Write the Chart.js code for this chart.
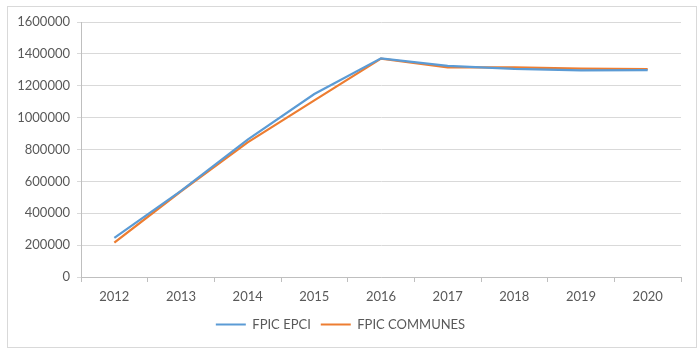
<!DOCTYPE html>
<html>
<head>
<meta charset="utf-8">
<script src="https://cdn.jsdelivr.net/npm/chart.js@4"></script>
<style>
  html, body { margin: 0; padding: 0; background: #fff; }
  #wrap { position: relative; width: 700px; height: 361px; }
  #frame { position: absolute; left: 7px; top: 6px; width: 688px; height: 340px;
           border: 1px solid #d9d9d9; pointer-events: none; }
</style>
</head>
<body>
<div id="wrap">
  <canvas id="chart" width="700" height="361"></canvas>
  <div id="frame"></div>
</div>
<script>
const years = ['2012', '2013', '2014', '2015', '2016', '2017', '2018', '2019', '2020'];
const fpicEpci = [245000, 540000, 862000, 1148000, 1372000, 1325000, 1306000, 1297000, 1298000];
const fpicCommunes = [215000, 538000, 845000, 1108000, 1370000, 1316000, 1316000, 1308000, 1305000];
const yTicks = [0, 200000, 400000, 600000, 800000, 1000000, 1200000, 1400000, 1600000];

const textColor = '#595959';
const gridColor = '#d9d9d9';
const font = { family: 'Lato, "Open Sans", sans-serif', size: 13 };

new Chart(document.getElementById('chart'), {
    type: 'line',
    data: {
        labels: years,
        datasets: [
            { label: 'FPIC EPCI', data: fpicEpci, borderColor: '#5b9bd5', backgroundColor: '#5b9bd5',
              borderWidth: 2.25, pointRadius: 0, tension: 0 },
            { label: 'FPIC COMMUNES', data: fpicCommunes, borderColor: '#ed7d31', backgroundColor: '#ed7d31',
              borderWidth: 2.25, pointRadius: 0, tension: 0 }
        ]
    },
    options: {
        responsive: false,
        animation: false,
        layout: { padding: { top: 22, right: 19, bottom: 20, left: 0 } },
        plugins: {
            tooltip: { enabled: false },
            legend: {
                position: 'bottom',
                labels: {
                    color: textColor,
                    font: font,
                    boxWidth: 30,
                    boxHeight: 2,
                    padding: 10,
                    generateLabels: (chart) => {
                        const items = Chart.defaults.plugins.legend.labels.generateLabels(chart);
                        items.forEach(it => { it.fillStyle = it.strokeStyle; it.lineWidth = 0; });
                        return items;
                    }
                }
            }
        },
        scales: {
            x: {
                offset: true,
                grid: { display: true, offset: true, drawOnChartArea: false, drawTicks: true,
                        tickLength: 5, color: '#bfbfbf' },
                border: { color: '#bfbfbf' },
                ticks: { color: textColor, font: font, padding: 7, maxRotation: 0 },
                afterFit: (scale) => { scale.height = 31; }
            },
            y: {
                min: 0,
                max: 1600000,
                afterBuildTicks: (scale) => { scale.ticks = yTicks.map(v => ({ value: v })); },
                grid: { color: gridColor, tickLength: 4, drawTicks: true },
                border: { color: '#bfbfbf' },
                ticks: { color: textColor, font: font, padding: 7,
                         callback: (v) => String(v) },
                afterFit: (scale) => { scale.width = 81; }
            }
        }
    }
});
</script>
</body>
</html>
